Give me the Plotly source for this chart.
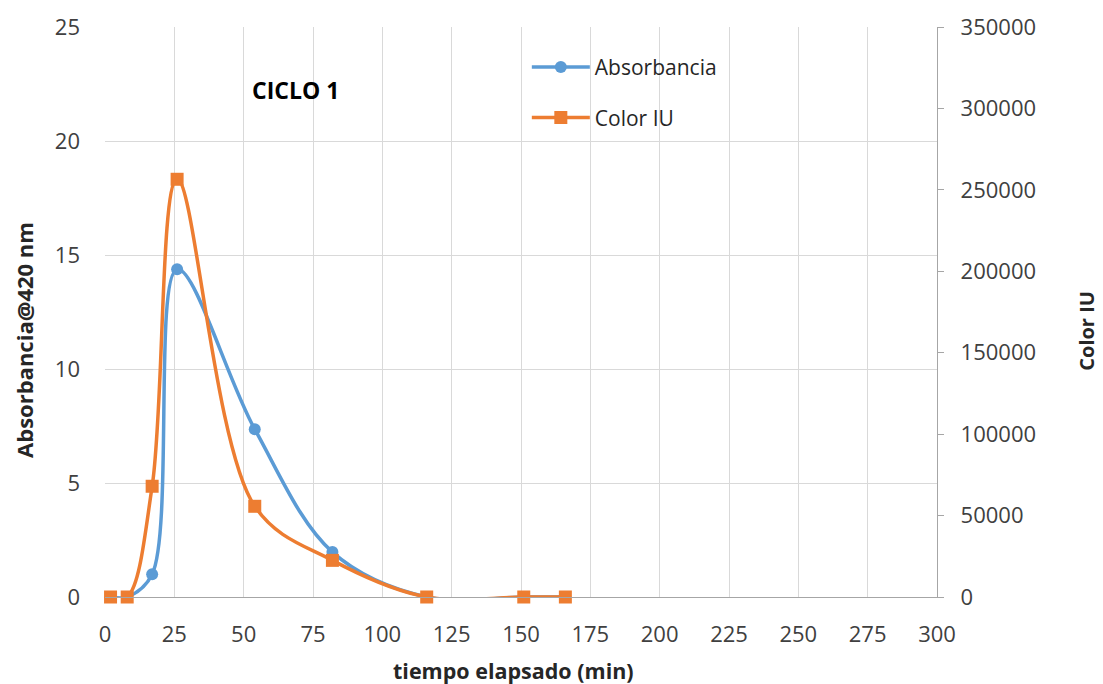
import plotly.graph_objects as go

# elapsed time (min)
tiempo = [2, 8, 17, 26, 54, 82, 116, 151, 166]
# absorbance at 420 nm (left axis)
absorbancia = [0, 0, 1.0, 14.37, 7.36, 1.97, 0, 0, 0]
# colour in ICUMSA units (right axis)
color_iu = [0, 0, 68000, 256500, 55700, 22500, 0, 0, 0]

BLUE = "#5B9BD5"
ORANGE = "#ED7D31"
GRID = "#D9D9D9"
AXIS = "#A6A6A6"
FONT = "Open Sans"
TXT = "#262626"
TICK = "#404040"

fig = go.Figure()
fig.add_trace(go.Scatter(
    x=tiempo, y=absorbancia, name="Absorbancia", mode="lines+markers",
    line=dict(color=BLUE, width=3.5, shape="spline", smoothing=1.0),
    marker=dict(symbol="circle", size=12, color=BLUE),
    legendgroup="a", yaxis="y", cliponaxis=False,
))
fig.add_trace(go.Scatter(
    x=tiempo, y=color_iu, name="Color IU", mode="lines+markers",
    line=dict(color=ORANGE, width=3.5, shape="spline", smoothing=1.0),
    marker=dict(symbol="square", size=13, color=ORANGE),
    legendgroup="b", yaxis="y2", cliponaxis=False,
))

fig.update_layout(
    width=1103, height=684,
    margin=dict(l=105, r=166, t=27, b=87),
    paper_bgcolor="white", plot_bgcolor="white",
    font=dict(family=FONT, size=22, color=TXT),
    showlegend=True,
    legend=dict(
        x=0.507, y=0.965, xanchor="left", yanchor="top",
        bgcolor="rgba(0,0,0,0)", font=dict(size=21, color=TXT),
        traceorder="grouped", tracegroupgap=20, itemwidth=58,
    ),
    xaxis=dict(
        range=[0, 300], dtick=25, tick0=0, showgrid=True, gridcolor=GRID,
        gridwidth=1.4, zeroline=False, showline=True, linecolor=AXIS,
        linewidth=1.4, ticks="", ticklabelstandoff=17,
        tickfont=dict(size=22, color=TICK),
    ),
    yaxis=dict(
        range=[0, 25], dtick=5, showgrid=True, gridcolor=GRID, gridwidth=1.4,
        zeroline=False, showline=False, ticks="", ticklabelstandoff=24,
        tickfont=dict(size=22, color=TICK),
    ),
    yaxis2=dict(
        range=[0, 350000], dtick=50000, overlaying="y", side="right",
        showgrid=False, zeroline=False, showline=True, linecolor=AXIS,
        linewidth=1.4, ticks="outside", ticklen=6, tickcolor=AXIS,
        ticklabelstandoff=12, tickformat="d",
        tickfont=dict(size=22, color=TICK),
    ),
    annotations=[
        dict(x=0.229, y=0.889, xref="paper", yref="paper",
             xanchor="center", yanchor="middle", text="<b>CICLO 1</b>",
             showarrow=False, font=dict(size=23, color="black")),
        dict(x=0.4904, y=-0.1298, xref="paper", yref="paper",
             xanchor="center", yanchor="middle",
             text="<b>tiempo elapsado (min)</b>", showarrow=False,
             font=dict(size=21.5, color=TXT)),
        dict(x=-0.0974, y=0.4509, xref="paper", yref="paper",
             xanchor="center", yanchor="middle", textangle=-90,
             text="<b>Absorbancia@420 nm</b>", showarrow=False,
             font=dict(size=22, color=TXT)),
        dict(x=1.1800, y=0.4667, xref="paper", yref="paper",
             xanchor="center", yanchor="middle", textangle=-90,
             text="<b>Color IU</b>", showarrow=False,
             font=dict(size=20, color=TXT)),
    ],
)

fig.write_html("out.html")
